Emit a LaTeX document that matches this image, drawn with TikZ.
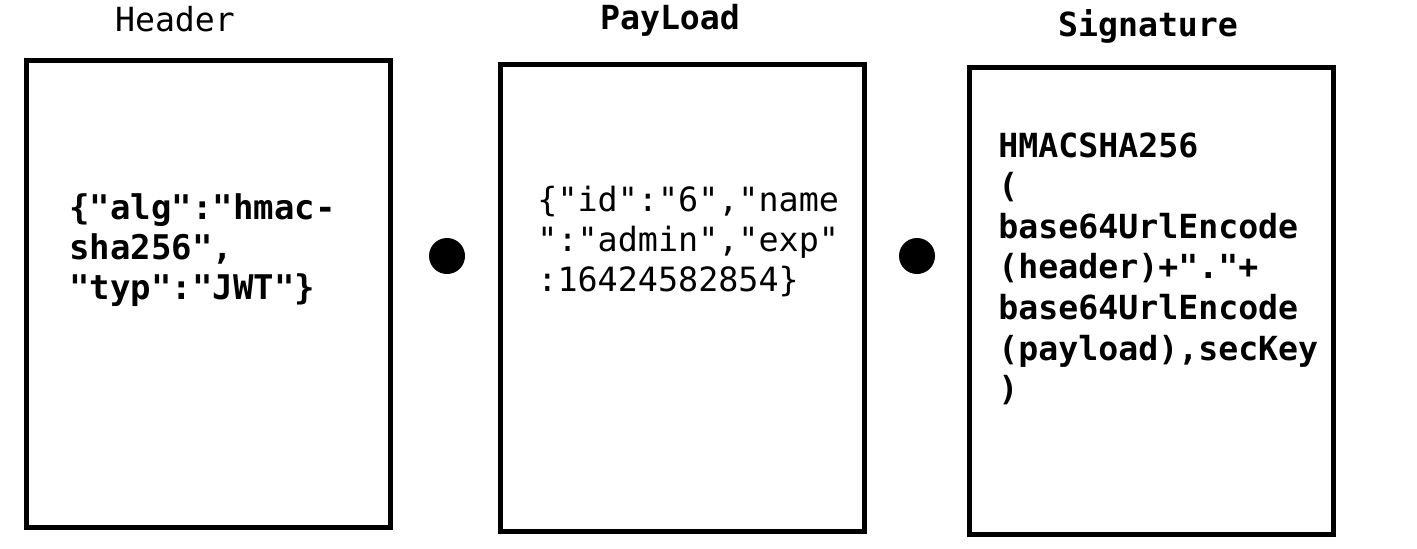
\documentclass[tikz,border=0pt]{standalone}
\usepackage{fontspec}
\newfontfamily\codefont{DejaVu Sans Mono}
\usepackage{tikz}
\usetikzlibrary{positioning}

\begin{document}
\begin{tikzpicture}[
        x=0.5pt, y=-0.5pt,
        part/.style={
            rectangle,
            draw=black,
            line width=2.5pt,
            minimum width=182pt,
            minimum height=233.5pt,
            inner sep=0pt
        },
        title/.style={
            font=\codefont\fontsize{16.6}{20}\selectfont,
            inner sep=0pt
        },
        code/.style={
            anchor=north west,
            align=left,
            inner sep=0pt,
            font=\codefont\bfseries\fontsize{17}{20}\selectfont
        },
        dot/.style={
            circle,
            fill=black,
            minimum size=18pt,
            inner sep=0pt
        }
    ]

    \useasboundingbox (0,0) rectangle (1417,548);

    \node (header) [part] at (208,294) {};

    \node (payload) [part] at (682,298) {};

    \node (signature) [part] at (1151,301) {};

    \node (headertitle) [title] at (175,19) {Header};

    \node (payloadtitle) [title, font=\codefont\bfseries\fontsize{16.6}{20}\selectfont] at (670,20) {PayLoad};

    \node (signaturetitle) [title, font=\codefont\bfseries\fontsize{16.6}{20}\selectfont] at (1148,26) {Signature};

    \node (headertext) [code] at (69,193) {\{"alg":"hmac-\\sha256",\\"typ":"JWT"\}};

    \node (payloadtext) [code, font=\codefont\fontsize{16.7}{20}\selectfont] at (537,186) {\{"id":"6","name\\":"admin","exp"\\:16424582854\}};

    \node (signaturetext) [code, font=\codefont\bfseries\fontsize{16.6}{20.3}\selectfont] at (998,132) {HMACSHA256\\(\\base64UrlEncode\\(header)+"."+\\base64UrlEncode\\(payload),secKey\\)};

    \node (dotone) [dot] at (447,256) {};

    \node (dottwo) [dot] at (917,256) {};

\end{tikzpicture}
\end{document}
